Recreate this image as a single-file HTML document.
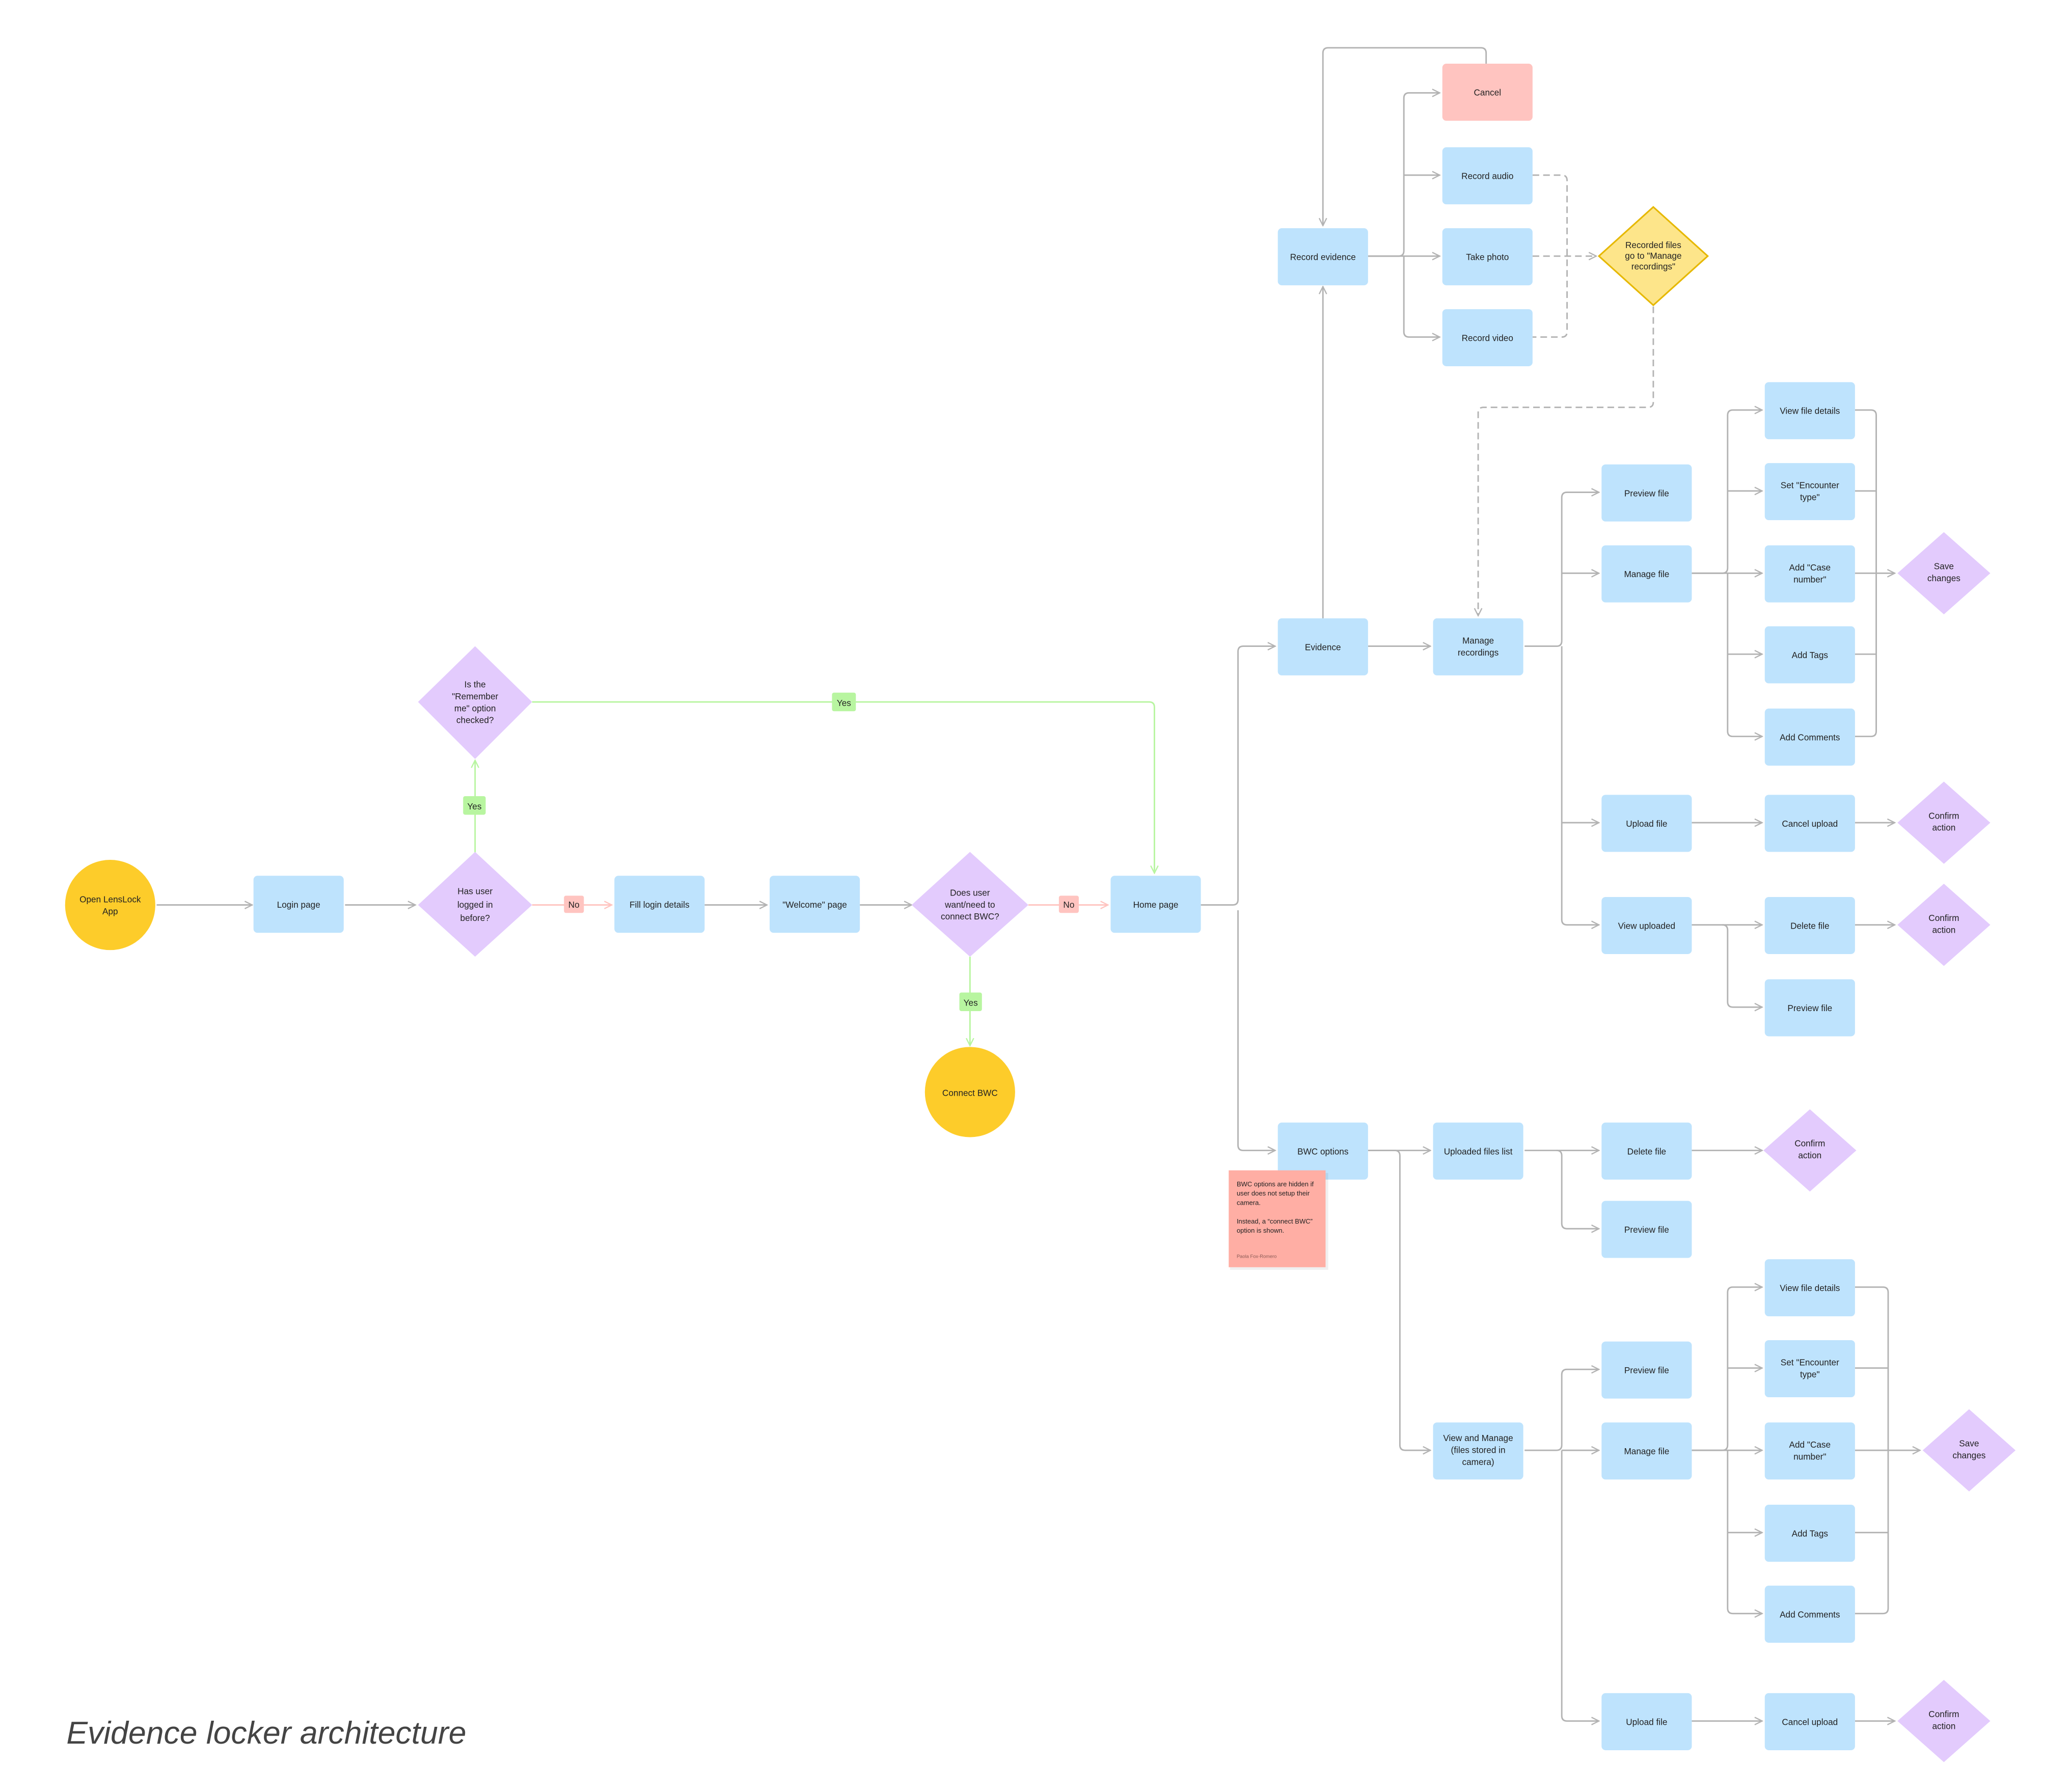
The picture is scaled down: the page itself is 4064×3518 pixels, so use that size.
<!DOCTYPE html>
<html><head><meta charset="utf-8"><style>
html,body{margin:0;padding:0;background:#fff}
svg{display:block}
text{font-family:"Liberation Sans",sans-serif;fill:#222;text-anchor:middle}
.b{fill:#bee3fd}
.p{fill:#e3cbfd}
.y{fill:#fdcc2a}
.l{fill:none;stroke:#b3b3b3;stroke-width:1.1}
.g{fill:none;stroke:#b8f5a0;stroke-width:1.1}
.r{fill:none;stroke:#ffc4c0;stroke-width:1.1}
.d{fill:none;stroke:#b3b3b3;stroke-width:1.1;stroke-dasharray:5 3}
.t{font-size:6.6px}
</style></head><body>
<svg width="4064" height="3518" viewBox="0 0 1560 1350.5" xmlns="http://www.w3.org/2000/svg">
<defs>
<marker id="a" viewBox="0 0 10 10" refX="9" refY="5" markerWidth="7" markerHeight="7" markerUnits="userSpaceOnUse" orient="auto"><path d="M1 1 L9 5 L1 9" fill="none" stroke="#b3b3b3" stroke-width="1.3"/></marker>
<marker id="ag" viewBox="0 0 10 10" refX="9" refY="5" markerWidth="7" markerHeight="7" markerUnits="userSpaceOnUse" orient="auto"><path d="M1 1 L9 5 L1 9" fill="none" stroke="#b8f5a0" stroke-width="1.3"/></marker>
<marker id="ar" viewBox="0 0 10 10" refX="9" refY="5" markerWidth="7" markerHeight="7" markerUnits="userSpaceOnUse" orient="auto"><path d="M1 1 L9 5 L1 9" fill="none" stroke="#ffc4c0" stroke-width="1.3"/></marker>
</defs>

<!-- connectors -->
<path class="l" d="M118 682H190" marker-end="url(#a)"/>
<path class="l" d="M260 682H313" marker-end="url(#a)"/>
<path class="r" d="M401 682H461" marker-end="url(#ar)"/>
<path class="l" d="M531 682H578" marker-end="url(#a)"/>
<path class="l" d="M648 682H687" marker-end="url(#a)"/>
<path class="r" d="M775 682H835" marker-end="url(#ar)"/>
<path class="g" d="M731 721V788" marker-end="url(#ag)"/>
<path class="g" d="M358 643V573" marker-end="url(#ag)"/>
<path class="g" d="M401 529H866Q870 529 870 533V658" marker-end="url(#ag)"/>
<path class="l" d="M905 682H929Q933 682 933 678V491Q933 487 937 487H961" marker-end="url(#a)"/>
<path class="l" d="M933 686V863Q933 867 937 867H961" marker-end="url(#a)"/>
<path class="l" d="M997 466V216" marker-end="url(#a)"/>
<path class="l" d="M1031 193H1085" marker-end="url(#a)"/>
<path class="l" d="M1031 193H1054Q1058 193 1058 189V74Q1058 70 1062 70H1085" marker-end="url(#a)"/>
<path class="l" d="M1058 132H1085" marker-end="url(#a)"/>
<path class="l" d="M1058 193V250Q1058 254 1062 254H1085" marker-end="url(#a)"/>
<path class="l" d="M1120 48V40Q1120 36 1116 36H1001Q997 36 997 40V170" marker-end="url(#a)"/>
<path class="d" d="M1155 132H1177Q1181 132 1181 136V250Q1181 254 1177 254H1155"/>
<path class="d" d="M1155 193H1203" marker-end="url(#a)"/>
<path class="d" d="M1246 231V303Q1246 307 1242 307H1118Q1114 307 1114 311V464" marker-end="url(#a)"/>
<path class="l" d="M1031 487H1078" marker-end="url(#a)"/>
<!-- manage recordings branch -->
<path class="l" d="M1149 487H1173Q1177 487 1177 483V375Q1177 371 1181 371H1205" marker-end="url(#a)"/>
<path class="l" d="M1177 432H1205" marker-end="url(#a)"/>
<path class="l" d="M1177 487V693Q1177 697 1181 697H1205" marker-end="url(#a)"/>
<path class="l" d="M1177 620H1205" marker-end="url(#a)"/>
<path class="l" d="M1275 432H1298Q1302 432 1302 428V313Q1302 309 1306 309H1328" marker-end="url(#a)"/>
<path class="l" d="M1302 370H1328" marker-end="url(#a)"/>
<path class="l" d="M1275 432H1328" marker-end="url(#a)"/>
<path class="l" d="M1302 432V551Q1302 555 1306 555H1328" marker-end="url(#a)"/>
<path class="l" d="M1302 493H1328" marker-end="url(#a)"/>
<path class="l" d="M1398 309H1410Q1414 309 1414 313V551Q1414 555 1410 555H1398"/>
<path class="l" d="M1398 370H1414M1398 493H1414"/>
<path class="l" d="M1398 432H1428" marker-end="url(#a)"/>
<path class="l" d="M1275 620H1328" marker-end="url(#a)"/>
<path class="l" d="M1398 620H1428" marker-end="url(#a)"/>
<path class="l" d="M1275 697H1328" marker-end="url(#a)"/>
<path class="l" d="M1398 697H1428" marker-end="url(#a)"/>
<path class="l" d="M1298 697Q1302 697 1302 701V755Q1302 759 1306 759H1328" marker-end="url(#a)"/>
<!-- BWC branch -->
<path class="l" d="M1031 867H1078" marker-end="url(#a)"/>
<path class="l" d="M1031 867H1051Q1055 867 1055 871V1089Q1055 1093 1059 1093H1078" marker-end="url(#a)"/>
<path class="l" d="M1149 867H1205" marker-end="url(#a)"/>
<path class="l" d="M1173 867Q1177 867 1177 871V922Q1177 926 1181 926H1205" marker-end="url(#a)"/>
<path class="l" d="M1275 867H1328" marker-end="url(#a)"/>
<path class="l" d="M1149 1093H1173Q1177 1093 1177 1089V1036Q1177 1032 1181 1032H1205" marker-end="url(#a)"/>
<path class="l" d="M1177 1093H1205" marker-end="url(#a)"/>
<path class="l" d="M1177 1093V1293Q1177 1297 1181 1297H1205" marker-end="url(#a)"/>
<path class="l" d="M1275 1093H1298Q1302 1093 1302 1089V974Q1302 970 1306 970H1328" marker-end="url(#a)"/>
<path class="l" d="M1302 1031H1328" marker-end="url(#a)"/>
<path class="l" d="M1275 1093H1328" marker-end="url(#a)"/>
<path class="l" d="M1302 1093V1212Q1302 1216 1306 1216H1328" marker-end="url(#a)"/>
<path class="l" d="M1302 1155H1328" marker-end="url(#a)"/>
<path class="l" d="M1398 970H1419Q1423 970 1423 974V1212Q1423 1216 1419 1216H1398"/>
<path class="l" d="M1398 1031H1423M1398 1155H1423"/>
<path class="l" d="M1398 1093H1447" marker-end="url(#a)"/>
<path class="l" d="M1275 1297H1328" marker-end="url(#a)"/>
<path class="l" d="M1398 1297H1428" marker-end="url(#a)"/>

<!-- labels on lines -->
<rect x="425" y="675" width="15" height="13" rx="1.5" fill="#ffc4c0"/><text class="t" x="432.5" y="684">No</text>
<rect x="798" y="675" width="15" height="13" rx="1.5" fill="#ffc4c0"/><text class="t" x="805.5" y="684">No</text>
<rect x="723" y="748" width="17" height="14" rx="1.5" fill="#b8f5a0"/><text class="t" x="731.5" y="758">Yes</text>
<rect x="349" y="600" width="17" height="14" rx="1.5" fill="#b8f5a0"/><text class="t" x="357.5" y="610">Yes</text>
<rect x="627" y="522" width="18" height="14" rx="1.5" fill="#b8f5a0"/><text class="t" x="636" y="532">Yes</text>

<!-- start/end circles -->
<circle class="y" cx="83" cy="682" r="34"/>
<text class="t" x="83" y="680">Open LensLock</text><text class="t" x="83" y="689">App</text>
<circle class="y" cx="731" cy="823" r="34"/>
<text class="t" x="731" y="826">Connect BWC</text>

<!-- diamonds -->
<polygon class="p" points="358,642 401,682 358,721 315,682"/>
<text class="t" x="358" y="674">Has user</text><text class="t" x="358" y="684">logged in</text><text class="t" x="358" y="694">before?</text>
<polygon class="p" points="731,642 775,682 731,721 687,682"/>
<text class="t" x="731" y="675">Does user</text><text class="t" x="731" y="684">want/need to</text><text class="t" x="731" y="693">connect BWC?</text>
<polygon class="p" points="358,487 401,529 358,572 315,529"/>
<text class="t" x="358" y="518">Is the</text><text class="t" x="358" y="527">"Remember</text><text class="t" x="358" y="536">me" option</text><text class="t" x="358" y="545">checked?</text>
<polygon points="1246,156 1287,193 1246,230 1205,193" fill="#fde58a" stroke="#e6b800" stroke-width="1.2"/>
<text class="t" x="1246" y="187">Recorded files</text><text class="t" x="1246" y="195">go to "Manage</text><text class="t" x="1246" y="203">recordings"</text>
<polygon class="p" points="1465,401 1500,432 1465,463 1430,432"/><text class="t" x="1465" y="429">Save</text><text class="t" x="1465" y="438">changes</text>
<polygon class="p" points="1465,589 1500,620 1465,651 1430,620"/><text class="t" x="1465" y="617">Confirm</text><text class="t" x="1465" y="626">action</text>
<polygon class="p" points="1465,666 1500,697 1465,728 1430,697"/><text class="t" x="1465" y="694">Confirm</text><text class="t" x="1465" y="703">action</text>
<polygon class="p" points="1364,836 1399,867 1364,898 1329,867"/><text class="t" x="1364" y="864">Confirm</text><text class="t" x="1364" y="873">action</text>
<polygon class="p" points="1484,1062 1519,1093 1484,1124 1449,1093"/><text class="t" x="1484" y="1090">Save</text><text class="t" x="1484" y="1099">changes</text>
<polygon class="p" points="1465,1266 1500,1297 1465,1328 1430,1297"/><text class="t" x="1465" y="1294">Confirm</text><text class="t" x="1465" y="1303">action</text>

<!-- boxes -->
<g>
<rect class="b" x="191" y="660" width="68" height="43" rx="3"/><text class="t" x="225" y="684">Login page</text>
<rect class="b" x="463" y="660" width="68" height="43" rx="3"/><text class="t" x="497" y="684">Fill login details</text>
<rect class="b" x="580" y="660" width="68" height="43" rx="3"/><text class="t" x="614" y="684">"Welcome" page</text>
<rect class="b" x="837" y="660" width="68" height="43" rx="3"/><text class="t" x="871" y="684">Home page</text>
<rect class="b" x="963" y="466" width="68" height="43" rx="3"/><text class="t" x="997" y="490">Evidence</text>
<rect class="b" x="963" y="172" width="68" height="43" rx="3"/><text class="t" x="997" y="196">Record evidence</text>
<rect x="1087" y="48" width="68" height="43" rx="3" fill="#ffc4c0"/><text class="t" x="1121" y="72">Cancel</text>
<rect class="b" x="1087" y="111" width="68" height="43" rx="3"/><text class="t" x="1121" y="135">Record audio</text>
<rect class="b" x="1087" y="172" width="68" height="43" rx="3"/><text class="t" x="1121" y="196">Take photo</text>
<rect class="b" x="1087" y="233" width="68" height="43" rx="3"/><text class="t" x="1121" y="257">Record video</text>
<rect class="b" x="1080" y="466" width="68" height="43" rx="3"/><text class="t" x="1114" y="485">Manage</text><text class="t" x="1114" y="494">recordings</text>
<rect class="b" x="1207" y="350" width="68" height="43" rx="3"/><text class="t" x="1241" y="374">Preview file</text>
<rect class="b" x="1207" y="411" width="68" height="43" rx="3"/><text class="t" x="1241" y="435">Manage file</text>
<rect class="b" x="1207" y="599" width="68" height="43" rx="3"/><text class="t" x="1241" y="623">Upload file</text>
<rect class="b" x="1207" y="676" width="68" height="43" rx="3"/><text class="t" x="1241" y="700">View uploaded</text>
<rect class="b" x="1330" y="288" width="68" height="43" rx="3"/><text class="t" x="1364" y="312">View file details</text>
<rect class="b" x="1330" y="349" width="68" height="43" rx="3"/><text class="t" x="1364" y="368">Set "Encounter</text><text class="t" x="1364" y="377">type"</text>
<rect class="b" x="1330" y="411" width="68" height="43" rx="3"/><text class="t" x="1364" y="430">Add "Case</text><text class="t" x="1364" y="439">number"</text>
<rect class="b" x="1330" y="472" width="68" height="43" rx="3"/><text class="t" x="1364" y="496">Add Tags</text>
<rect class="b" x="1330" y="534" width="68" height="43" rx="3"/><text class="t" x="1364" y="558">Add Comments</text>
<rect class="b" x="1330" y="599" width="68" height="43" rx="3"/><text class="t" x="1364" y="623">Cancel upload</text>
<rect class="b" x="1330" y="676" width="68" height="43" rx="3"/><text class="t" x="1364" y="700">Delete file</text>
<rect class="b" x="1330" y="738" width="68" height="43" rx="3"/><text class="t" x="1364" y="762">Preview file</text>
<rect class="b" x="963" y="846" width="68" height="43" rx="3"/><text class="t" x="997" y="870">BWC options</text>
<rect class="b" x="1080" y="846" width="68" height="43" rx="3"/><text class="t" x="1114" y="870">Uploaded files list</text>
<rect class="b" x="1207" y="846" width="68" height="43" rx="3"/><text class="t" x="1241" y="870">Delete file</text>
<rect class="b" x="1207" y="905" width="68" height="43" rx="3"/><text class="t" x="1241" y="929">Preview file</text>
<rect class="b" x="1080" y="1072" width="68" height="43" rx="3"/><text class="t" x="1114" y="1086">View and Manage</text><text class="t" x="1114" y="1095">(files stored in</text><text class="t" x="1114" y="1104">camera)</text>
<rect class="b" x="1207" y="1011" width="68" height="43" rx="3"/><text class="t" x="1241" y="1035">Preview file</text>
<rect class="b" x="1207" y="1072" width="68" height="43" rx="3"/><text class="t" x="1241" y="1096">Manage file</text>
<rect class="b" x="1207" y="1276" width="68" height="43" rx="3"/><text class="t" x="1241" y="1300">Upload file</text>
<rect class="b" x="1330" y="949" width="68" height="43" rx="3"/><text class="t" x="1364" y="973">View file details</text>
<rect class="b" x="1330" y="1010" width="68" height="43" rx="3"/><text class="t" x="1364" y="1029">Set "Encounter</text><text class="t" x="1364" y="1038">type"</text>
<rect class="b" x="1330" y="1072" width="68" height="43" rx="3"/><text class="t" x="1364" y="1091">Add "Case</text><text class="t" x="1364" y="1100">number"</text>
<rect class="b" x="1330" y="1134" width="68" height="43" rx="3"/><text class="t" x="1364" y="1158">Add Tags</text>
<rect class="b" x="1330" y="1195" width="68" height="43" rx="3"/><text class="t" x="1364" y="1219">Add Comments</text>
<rect class="b" x="1330" y="1276" width="68" height="43" rx="3"/><text class="t" x="1364" y="1300">Cancel upload</text>
</g>

<!-- sticky note -->
<rect x="927" y="884" width="74" height="73" fill="#000" opacity="0.06"/>
<rect x="926" y="882" width="73" height="73" fill="#ffaea4"/>
<g style="text-anchor:start">
<text x="932" y="894" font-size="5" style="text-anchor:start">BWC options are hidden if</text>
<text x="932" y="901" font-size="5" style="text-anchor:start">user does not setup their</text>
<text x="932" y="908" font-size="5" style="text-anchor:start">camera.</text>
<text x="932" y="922" font-size="5" style="text-anchor:start">Instead, a “connect BWC”</text>
<text x="932" y="929" font-size="5" style="text-anchor:start">option is shown.</text>
<text x="932" y="948" font-size="3.6" style="text-anchor:start;fill:#8a5a55">Paola Fox-Romero</text>
</g>

<text x="50" y="1314" font-size="24" font-style="italic" style="text-anchor:start;fill:#444">Evidence locker architecture</text>
</svg>
</body></html>
